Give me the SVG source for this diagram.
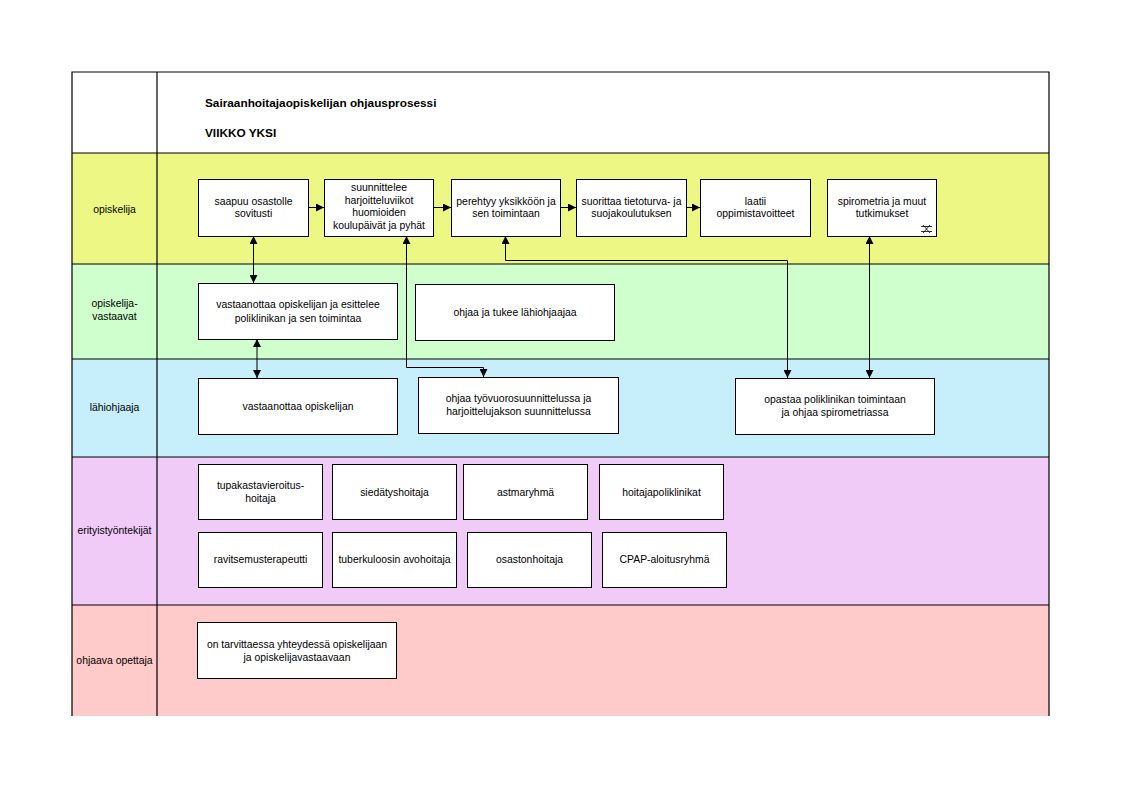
<svg xmlns="http://www.w3.org/2000/svg" width="1122" height="794" viewBox="0 0 1122 794">
<defs>
<style>
.t{font-family:"Liberation Sans",Arial,sans-serif;font-size:10.4px;fill:#000;text-anchor:middle}
.h{font-family:"Liberation Sans",Arial,sans-serif;font-size:11.8px;font-weight:bold;fill:#000}
.b{fill:#fff;stroke:#000;stroke-width:1}
.ln{fill:none;stroke:#000;stroke-width:1.2}
.c{fill:none;stroke:#000;stroke-width:1}
</style>
<marker id="ah" viewBox="0 0 10 10" refX="10" refY="5" markerWidth="8" markerHeight="8" markerUnits="userSpaceOnUse" orient="auto-start-reverse">
<path d="M0,0 L10,5 L0,10 z" fill="#000"/>
</marker>
</defs>
<rect width="1122" height="794" fill="#fff"/>
<g id="lanes">
<rect x="72" y="72" width="977" height="81" fill="#fff"/>
<rect x="72" y="153" width="977" height="111" fill="#ECF784"/>
<rect x="72" y="264" width="977" height="95" fill="#CFFFCC"/>
<rect x="72" y="359" width="977" height="98" fill="#C6EFFB"/>
<rect x="72" y="457" width="977" height="148" fill="#F0CBF8"/>
<rect x="72" y="605" width="977" height="111" fill="#FFCACA"/>
<path class="ln" d="M72,716 V72 H1049 V716 M157,72 V716 M72,153 H1049 M72,264 H1049 M72,359 H1049 M72,457 H1049 M72,605 H1049"/>
<text class="h" x="205" y="107">Sairaanhoitajaopiskelijan ohjausprosessi</text>
<text class="h" x="205" y="137">VIIKKO YKSI</text>
<text class="t" x="114.5" y="213">opiskelija</text>
<text class="t" x="114.5" y="307">opiskelija-</text>
<text class="t" x="114.5" y="320">vastaavat</text>
<text class="t" x="114.5" y="411">lähiohjaaja</text>
<text class="t" x="114.5" y="534">erityistyöntekijät</text>
<text class="t" x="114.5" y="664">ohjaava opettaja</text>
</g>
<g id="connectors">
<line class="c" x1="308" y1="207.5" x2="324" y2="207.5" marker-end="url(#ah)"/>
<line class="c" x1="433" y1="207.5" x2="451" y2="207.5" marker-end="url(#ah)"/>
<line class="c" x1="560" y1="207.5" x2="576" y2="207.5" marker-end="url(#ah)"/>
<line class="c" x1="686" y1="207.5" x2="700" y2="207.5" marker-end="url(#ah)"/>
<line class="c" x1="253.5" y1="236" x2="253.5" y2="283" marker-start="url(#ah)" marker-end="url(#ah)"/>
<line class="c" x1="257" y1="339" x2="257" y2="378" marker-start="url(#ah)" marker-end="url(#ah)"/>
<polyline class="c" points="406.5,236 406.5,367.5 483.5,367.5 483.5,377" marker-start="url(#ah)" marker-end="url(#ah)"/>
<polyline class="c" points="505.5,236 505.5,260.5 787.5,260.5 787.5,378" marker-start="url(#ah)" marker-end="url(#ah)"/>
<line class="c" x1="869.5" y1="236" x2="869.5" y2="378" marker-start="url(#ah)" marker-end="url(#ah)"/>
</g>
<g id="n1"><rect class="b" x="198.5" y="179.5" width="110" height="57"/><text class="t" x="253.5" y="205">saapuu osastolle</text><text class="t" x="253.5" y="217">sovitusti</text></g>
<g id="n2"><rect class="b" x="324.5" y="179.5" width="109" height="57"/><text class="t" x="379" y="191">suunnittelee</text><text class="t" x="379" y="204">harjoitteluviikot</text><text class="t" x="379" y="216">huomioiden</text><text class="t" x="379" y="229">koulupäivät ja pyhät</text></g>
<g id="n3"><rect class="b" x="451.5" y="179.5" width="109" height="57"/><text class="t" x="506" y="205">perehtyy yksikköön ja</text><text class="t" x="506" y="217">sen toimintaan</text></g>
<g id="n4"><rect class="b" x="576.5" y="179.5" width="110" height="57"/><text class="t" x="631.5" y="205">suorittaa tietoturva- ja</text><text class="t" x="631.5" y="217">suojakoulutuksen</text></g>
<g id="n5"><rect class="b" x="700.5" y="179.5" width="110" height="57"/><text class="t" x="755.5" y="205">laatii</text><text class="t" x="755.5" y="217">oppimistavoitteet</text></g>
<g id="n6"><rect class="b" x="827.5" y="179.5" width="109" height="57"/><text class="t" x="882" y="205">spirometria ja muut</text><text class="t" x="882" y="217">tutkimukset</text>
<path d="M921,226.5 H932 M921,231.5 H932 M923,225 L930,233 M930,225 L923,233" stroke="#000" stroke-width="0.8" fill="none"/></g>
<g id="n7"><rect class="b" x="198.5" y="283.5" width="199" height="56"/><text class="t" x="298" y="308">vastaanottaa opiskelijan ja esittelee</text><text class="t" x="298" y="322">poliklinikan ja sen toimintaa</text></g>
<g id="n8"><rect class="b" x="415.5" y="284.5" width="199" height="56"/><text class="t" x="515" y="316">ohjaa ja tukee lähiohjaajaa</text></g>
<g id="n9"><rect class="b" x="198.5" y="378.5" width="199" height="56"/><text class="t" x="298" y="410">vastaanottaa opiskelijan</text></g>
<g id="n10"><rect class="b" x="418.5" y="377.5" width="200" height="56"/><text class="t" x="518.5" y="402">ohjaa työvuorosuunnittelussa ja</text><text class="t" x="518.5" y="415">harjoittelujakson suunnittelussa</text></g>
<g id="n11"><rect class="b" x="735.5" y="378.5" width="199" height="56"/><text class="t" x="835" y="403">opastaa poliklinikan toimintaan</text><text class="t" x="835" y="416">ja ohjaa spirometriassa</text></g>
<g id="n12"><rect class="b" x="198.5" y="464.5" width="124" height="55"/><text class="t" x="260.5" y="489">tupakastavieroitus-</text><text class="t" x="260.5" y="502">hoitaja</text></g>
<g id="n13"><rect class="b" x="332.5" y="464.5" width="124" height="55"/><text class="t" x="394.5" y="496">siedätyshoitaja</text></g>
<g id="n14"><rect class="b" x="463.5" y="464.5" width="124" height="55"/><text class="t" x="525.5" y="496">astmaryhmä</text></g>
<g id="n15"><rect class="b" x="599.5" y="464.5" width="124" height="55"/><text class="t" x="661.5" y="496">hoitajapoliklinikat</text></g>
<g id="n16"><rect class="b" x="198.5" y="532.5" width="124" height="55"/><text class="t" x="260.5" y="563">ravitsemusterapeutti</text></g>
<g id="n17"><rect class="b" x="332.5" y="532.5" width="124" height="55"/><text class="t" x="394.5" y="563">tuberkuloosin avohoitaja</text></g>
<g id="n18"><rect class="b" x="467.5" y="532.5" width="124" height="55"/><text class="t" x="529.5" y="563">osastonhoitaja</text></g>
<g id="n19"><rect class="b" x="602.5" y="532.5" width="124" height="55"/><text class="t" x="664.5" y="563">CPAP-aloitusryhmä</text></g>
<g id="n20"><rect class="b" x="197.5" y="622.5" width="199" height="56"/><text class="t" x="297" y="648">on tarvittaessa yhteydessä opiskelijaan</text><text class="t" x="297" y="661">ja opiskelijavastaavaan</text></g>
</svg>
